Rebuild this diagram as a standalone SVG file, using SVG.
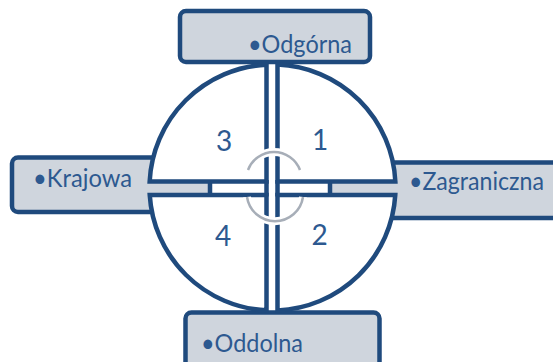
<svg xmlns="http://www.w3.org/2000/svg" width="553" height="362" viewBox="0 0 553 362">
<defs>
<style>
.box{fill:#CFD5DD;stroke:#1F4A7D;stroke-width:4.5}
.quad{fill:#FFFFFF;stroke:#1F4A7D;stroke-width:4.5;stroke-linejoin:miter}
.lbl{font-family:Lato,"Open Sans","Liberation Sans",sans-serif;font-size:25px;fill:#2D5990}
.num{font-family:Lato,"Open Sans","Liberation Sans",sans-serif;font-size:28px;fill:#2D5990;text-anchor:middle}
.bar{stroke:#1F4A7D;stroke-width:4.5;fill:none}
.halo{fill:none;stroke:#FFFFFF;stroke-width:8}
.arc{fill:none;stroke:#A7AEB8;stroke-width:2.5}
</style>
</defs>
<rect width="553" height="362" fill="#FFFFFF"/>
<g id="node-odgorna">
<rect class="box" x="180" y="11" width="190" height="51" rx="6"/>
<text class="lbl" x="248" y="52.5" textLength="104" lengthAdjust="spacingAndGlyphs">•Odgórna</text>
</g>
<g id="node-oddolna">
<rect class="box" x="185.5" y="312.5" width="194" height="62" rx="6"/>
<text class="lbl" x="201" y="352" textLength="102" lengthAdjust="spacingAndGlyphs">•Oddolna</text>
</g>
<g id="node-krajowa">
<rect class="box" x="12" y="157.5" width="198" height="54.5" rx="6"/>
<text class="lbl" x="33" y="187" textLength="99" lengthAdjust="spacingAndGlyphs">•Krajowa</text>
</g>
<g id="node-zagraniczna">
<rect class="box" x="330" y="162.5" width="240" height="55.5" rx="6"/>
<text class="lbl" x="409" y="190" textLength="135" lengthAdjust="spacingAndGlyphs">•Zagraniczna</text>
</g>
<g id="node-q3">
<path class="quad" d="M266.5,181.5 V64.65 A123,123 0 0,0 149.65,181.5 Z"/>
<text class="num" x="224" y="151">3</text>
</g>
<g id="node-q1">
<path class="quad" d="M277.5,181.5 V64.6 A123,123 0 0,1 395.35,181.5 Z"/>
<text class="num" x="320" y="150">1</text>
</g>
<g id="node-q4">
<path class="quad" d="M266.5,195 H149.73 A123,123 0 0,0 266.5,310.35 Z"/>
<text class="num" x="223" y="245.5">4</text>
</g>
<g id="node-q2">
<path class="quad" d="M277.5,195 H395.27 A123,123 0 0,1 277.5,310.4 Z"/>
<text class="num" x="319.5" y="245">2</text>
</g>
<g id="connectors">
<line class="bar" x1="266.5" y1="180" x2="266.5" y2="196.5"/>
<line class="bar" x1="277.5" y1="180" x2="277.5" y2="196.5"/>
<path class="halo" d="M248,170 A27.8,27.8 0 0,1 300,170"/>
<path class="arc" d="M248,170 A27.8,27.8 0 0,1 300,170"/>
<path class="halo" d="M247,197 A28.3,28.3 0 0,0 303,197"/>
<path class="arc" d="M247,197 A28.3,28.3 0 0,0 303,197"/>
</g>
</svg>
